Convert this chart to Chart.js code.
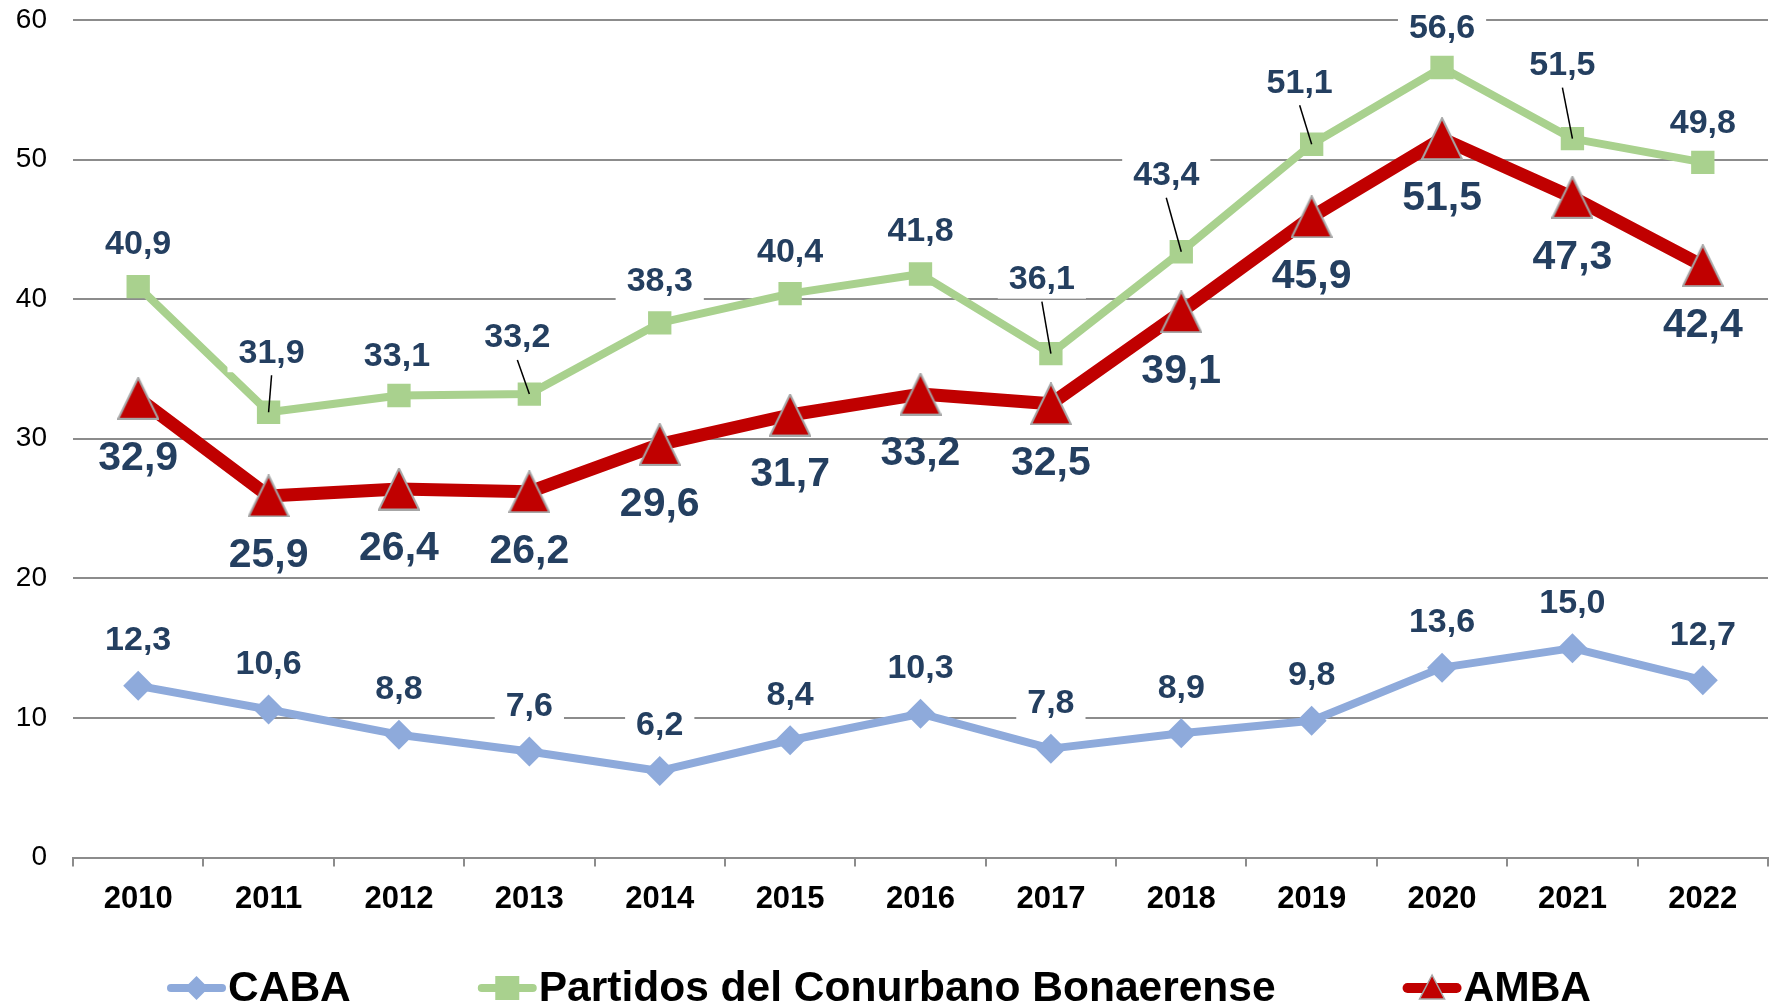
<!DOCTYPE html>
<html>
<head>
<meta charset="utf-8">
<script src="https://cdn.jsdelivr.net/npm/chart.js@4.4.0/dist/chart.umd.min.js"></script>
<style>
  body { margin: 0; background: #fff; overflow: hidden; }
  #wrap { width: 1769px; height: 1007px; }
  canvas { display: block; }
</style>
</head>
<body>
<div id="wrap"><canvas id="chart" width="1769" height="1007"></canvas></div>
<script>
// datos del gráfico
const years = ["2010", "2011", "2012", "2013", "2014", "2015", "2016", "2017", "2018", "2019", "2020", "2021", "2022"];
const caba = [12.3, 10.6, 8.8, 7.6, 6.2, 8.4, 10.3, 7.8, 8.9, 9.8, 13.6, 15.0, 12.7];
const partidos = [40.9, 31.9, 33.1, 33.2, 38.3, 40.4, 41.8, 36.1, 43.4, 51.1, 56.6, 51.5, 49.8];
const amba = [32.9, 25.9, 26.4, 26.2, 29.6, 31.7, 33.2, 32.5, 39.1, 45.9, 51.5, 47.3, 42.4];
const seriesNames = ["CABA", "Partidos del Conurbano Bonaerense", "AMBA"];
const yTicks = [0, 10, 20, 30, 40, 50, 60];

const FONT = '"Liberation Sans", Arial, sans-serif';
const BLUE = "#8eaadb";
const GREEN = "#a9d18e";
const RED = "#c00000";
const NAVY = "#243f60";

// label placement (pixels relative to the point)
const partidosLabelPos = [
  [0, -43, false], [3, -60, true], [-2, -40, false], [-12, -57, true],
  [0, -42, false], [0, -42, false], [0, -43, false], [-9, -75, true],
  [-15, -77, true], [-12, -62, true], [0, -40, false], [-10, -74, true],
  [0, -40, false]
];

function makeTriangle(w, h) {
  const c = document.createElement("canvas");
  c.width = w + 2;
  c.height = h + 2;
  const g = c.getContext("2d");
  g.beginPath();
  g.moveTo(c.width / 2, 1);
  g.lineTo(w + 1, h + 1);
  g.lineTo(1, h + 1);
  g.closePath();
  g.fillStyle = RED;
  g.fill();
  g.lineWidth = 2;
  g.strokeStyle = "#a6a6a6";
  g.stroke();
  return c;
}
const triangleImg = makeTriangle(40, 41);

function fmt(v) {
  return v.toFixed(1).replace(".", ",");
}

const dataLabels = {
  id: "dataLabels",
  afterDatasetsDraw(chart) {
    const ctx = chart.ctx;
    ctx.save();
    ctx.textAlign = "center";
    ctx.textBaseline = "middle";
    chart.data.datasets.forEach(function (ds, di) {
      const meta = chart.getDatasetMeta(di);
      meta.data.forEach(function (pt, i) {
        const txt = fmt(ds.data[i]);
        let dx = 0, dy = -46, leader = false, big = false;
        if (di === 1) {
          dx = partidosLabelPos[i][0];
          dy = partidosLabelPos[i][1];
          leader = partidosLabelPos[i][2];
        } else if (di === 2) {
          dy = 59;
          big = true;
        }
        const lx = pt.x + dx;
        const ly = pt.y + dy;
        ctx.font = (big ? "bold 41px " : "bold 34px ") + FONT;
        if (!big) {
          const w = ctx.measureText(txt).width + 22;
          ctx.fillStyle = "#fff";
          ctx.fillRect(lx - w / 2, ly - 20, w, 40);
        }
        if (leader) {
          ctx.beginPath();
          ctx.moveTo(lx, ly + 23);
          ctx.lineTo(pt.x, pt.y);
          ctx.lineWidth = 1.5;
          ctx.strokeStyle = "#000";
          ctx.stroke();
        }
        ctx.fillStyle = NAVY;
        ctx.fillText(txt, lx, ly + 1);
      });
    });
    ctx.restore();
  }
};

// leyenda dibujada a mano: línea + marcador + texto
const legendPlugin = {
  id: "customLegend",
  afterDraw(chart) {
    const ctx = chart.ctx;
    const y = 988;
    let x = 167;
    const items = [
      { color: BLUE, lw: 8, style: "diamond" },
      { color: GREEN, lw: 8, style: "square" },
      { color: RED, lw: 10, style: "triangle" }
    ];
    ctx.save();
    ctx.font = "bold 42.5px " + FONT;
    ctx.textBaseline = "middle";
    ctx.textAlign = "left";
    items.forEach(function (it, i) {
      ctx.beginPath();
      ctx.moveTo(x + it.lw / 2, y);
      ctx.lineTo(x + 59 - it.lw / 2, y);
      ctx.lineCap = "round";
      ctx.lineWidth = it.lw;
      ctx.strokeStyle = it.color;
      ctx.stroke();
      const cx = x + 29.5;
      ctx.fillStyle = it.color;
      if (it.style === "diamond") {
        ctx.beginPath();
        ctx.moveTo(cx, y - 12);
        ctx.lineTo(cx + 12, y);
        ctx.lineTo(cx, y + 12);
        ctx.lineTo(cx - 12, y);
        ctx.closePath();
        ctx.fill();
      } else if (it.style === "square") {
        ctx.fillRect(cx - 12, y - 12, 24, 24);
      } else {
        ctx.beginPath();
        ctx.moveTo(cx, y - 13);
        ctx.lineTo(cx + 12.5, y + 11);
        ctx.lineTo(cx - 12.5, y + 11);
        ctx.closePath();
        ctx.fill();
        ctx.lineWidth = 1.5;
        ctx.strokeStyle = "#a6a6a6";
        ctx.stroke();
      }
      ctx.fillStyle = "#000";
      const tx = x + 61;
      ctx.fillText(seriesNames[i], tx, y + 1);
      x = tx + ctx.measureText(seriesNames[i]).width + 127;
    });
    ctx.restore();
  }
};

const ctx = document.getElementById("chart").getContext("2d");
const myChart = new Chart(ctx, {
  type: "line",
  data: {
    labels: years,
    datasets: [
      {
        label: seriesNames[0],
        data: caba,
        borderColor: BLUE,
        backgroundColor: BLUE,
        borderWidth: 8,
        pointStyle: "rectRot",
        pointRadius: 15,
        pointBorderWidth: 0,
        order: 3
      },
      {
        label: seriesNames[1],
        data: partidos,
        borderColor: GREEN,
        backgroundColor: GREEN,
        borderWidth: 8,
        pointStyle: "rect",
        pointRadius: 16.5,
        pointBorderWidth: 0,
        order: 2
      },
      {
        label: seriesNames[2],
        data: amba,
        borderColor: RED,
        backgroundColor: RED,
        borderWidth: 13,
        pointStyle: triangleImg,
        pointRadius: 20,
        order: 1
      }
    ]
  },
  options: {
    responsive: false,
    animation: false,
    layout: {
      autoPadding: false,
      padding: { top: 20, right: 1, left: 0, bottom: 0 }
    },
    elements: {
      line: { tension: 0, borderJoinStyle: "round", borderCapStyle: "round" }
    },
    plugins: {
      legend: { display: false },
      tooltip: { enabled: false }
    },
    scales: {
      x: {
        offset: true,
        grid: {
          offset: true,
          drawOnChartArea: false,
          drawTicks: true,
          tickLength: 9,
          color: "#8c8c8c",
          lineWidth: 2
        },
        border: { display: true, color: "#8c8c8c", width: 2 },
        ticks: {
          color: "#000",
          padding: 14,
          font: { family: FONT, size: 31, weight: "bold" },
          maxRotation: 0
        },
        afterFit: function (s) {
          s.height = 149.5;
          s.paddingLeft = 0;
          s.paddingRight = 0;
        }
      },
      y: {
        min: 0,
        max: 60,
        afterBuildTicks: function (s) {
          s.ticks = yTicks.map(function (v) { return { value: v }; });
        },
        grid: { drawTicks: false, color: "#8c8c8c", lineWidth: 2 },
        border: { display: false },
        ticks: {
          color: "#000",
          padding: 26,
          font: { family: FONT, size: 28 }
        },
        afterFit: function (s) {
          s.width = 73;
          s.paddingTop = 0;
          s.paddingBottom = 0;
        }
      }
    }
  },
  plugins: [dataLabels, legendPlugin]
});
</script>
</body>
</html>
